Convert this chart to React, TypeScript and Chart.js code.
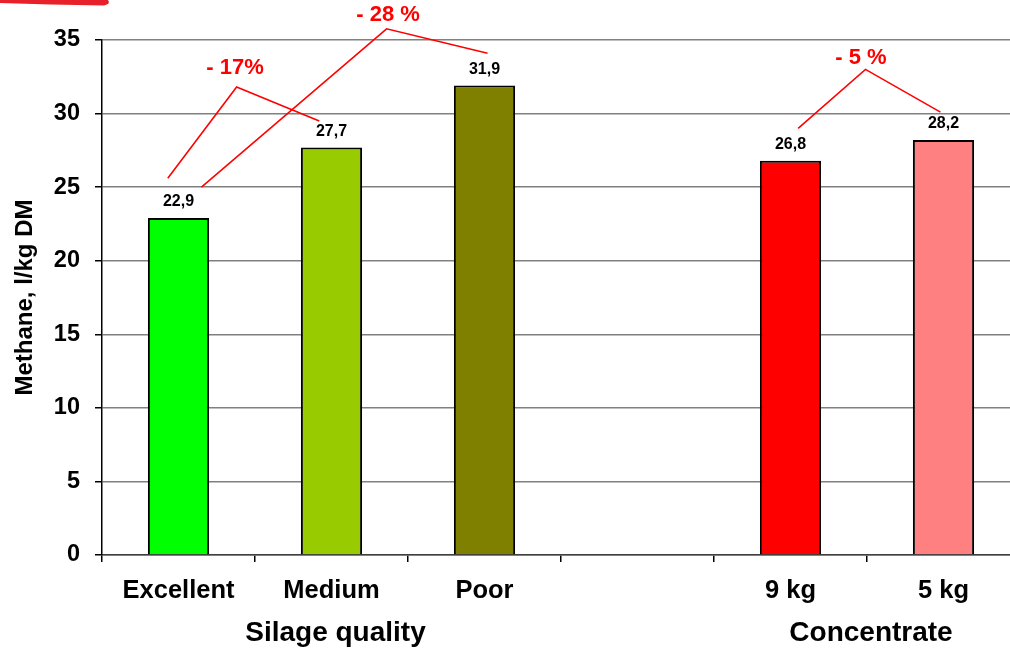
import React, { useEffect, useRef } from 'react';
import { Chart, registerables } from 'chart.js';

Chart.register(...registerables);

// Categories along the x axis (the blank slot separates the two groups)
const categories = ['Excellent', 'Medium', 'Poor', '', '9 kg', '5 kg'];
// Methane yield, l/kg DM
const methane: (number | null)[] = [22.9, 27.7, 31.9, null, 26.8, 28.2];
const barColors = ['#00FF00', '#99CC00', '#808000', '#FFFFFF', '#FF0000', '#FF8080'];

// Y axis range and step
const yMin = 0;
const yMax = 35;
const yStep = 5;

// Group captions under the category labels: first and last category index of each group
const groupTitles = ['Silage quality', 'Concentrate'];
const groupFirst = [0, 4];
const groupLast = [2, 5];

// Reduction callouts, in data units: x is a (fractional) category index, y is l/kg DM
const reductionLabels = ['- 17%', '- 28 %', '- 5 %'];
const reductionPaths: [number, number][][] = [
  [[-0.07, 25.6], [0.38, 31.8], [0.92, 29.5]],
  [[0.15, 25.0], [1.36, 35.76], [2.02, 34.1]],
  [[4.05, 29.0], [4.49, 33.0], [4.98, 30.1]],
];
const reductionLabelAt: [number, number][] = [[0.37, 33.1], [1.37, 36.7], [4.46, 33.8]];

const yTitle = 'Methane, l/kg DM';
const FONT = "'Liberation Sans', Arial, sans-serif";

const fmt = (v: number) => v.toFixed(1).replace('.', ',');

const overlayPlugin = {
  id: 'overlay',
  afterDatasetsDraw(chart: any) {
    const { ctx, chartArea, scales } = chart;
    const x = scales.x;
    const y = scales.y;
    const x0 = x.getPixelForValue(0);
    const step = x.getPixelForValue(1) - x0;
    const xAt = (c: number) => x0 + c * step;

    ctx.save();
    // value labels above bars
    ctx.fillStyle = '#000';
    ctx.font = `bold 16px ${FONT}`;
    ctx.textAlign = 'center';
    ctx.textBaseline = 'middle';
    methane.forEach((v, i) => {
      if (v == null) return;
      ctx.fillText(fmt(v), x.getPixelForValue(i), y.getPixelForValue(v) - 16);
    });

    // reduction callouts
    ctx.strokeStyle = '#FF0000';
    ctx.lineWidth = 1.6;
    reductionPaths.forEach((path) => {
      ctx.beginPath();
      path.forEach(([c, v], k) => {
        const px = xAt(c);
        const py = y.getPixelForValue(v);
        if (k === 0) ctx.moveTo(px, py);
        else ctx.lineTo(px, py);
      });
      ctx.stroke();
    });
    ctx.fillStyle = '#FF0000';
    ctx.font = `bold 22px ${FONT}`;
    reductionLabels.forEach((t, i) => {
      const [c, v] = reductionLabelAt[i];
      ctx.fillText(t, xAt(c), y.getPixelForValue(v));
    });

    // group captions
    ctx.fillStyle = '#000';
    ctx.font = `bold 28px ${FONT}`;
    groupTitles.forEach((t, i) => {
      const cx = (x.getPixelForValue(groupFirst[i]) + x.getPixelForValue(groupLast[i])) / 2;
      ctx.fillText(t, cx + 4, chartArea.bottom + 78);
    });

    // y axis title
    ctx.translate(25, (chartArea.top + chartArea.bottom) / 2);
    ctx.rotate(-Math.PI / 2);
    ctx.font = `bold 24px ${FONT}`;
    ctx.fillText(yTitle, 0, 0);
    ctx.restore();

    // red accent in the top-left corner
    ctx.save();
    ctx.fillStyle = '#E8202A';
    ctx.beginPath();
    ctx.moveTo(0, 0);
    ctx.lineTo(108, 0);
    ctx.quadraticCurveTo(111, 4, 104, 5.5);
    ctx.quadraticCurveTo(50, 4.5, 0, 3);
    ctx.closePath();
    ctx.fill();
    ctx.restore();
  },
};

export default function App() {
  const canvasRef = useRef<HTMLCanvasElement>(null);

  useEffect(() => {
    const canvas = canvasRef.current;
    if (!canvas) return;
    const chart = new Chart(canvas, {
      type: 'bar',
      data: {
        labels: categories,
        datasets: [
          {
            data: methane,
            backgroundColor: barColors,
            borderColor: '#000',
            borderWidth: 2,
            barPercentage: 0.8,
            categoryPercentage: 0.5,
          },
        ],
      },
      options: {
        responsive: false,
        maintainAspectRatio: false,
        animation: false,
        devicePixelRatio: 1,
        layout: { padding: { top: 40, left: 0, right: 0, bottom: 0 } },
        plugins: { legend: { display: false }, tooltip: { enabled: false } },
        scales: {
          x: {
            type: 'category',
            offset: true,
            grid: {
              drawOnChartArea: false,
              offset: true,
              tickLength: 7,
              color: '#000',
              lineWidth: 1.5,
            },
            border: { color: '#404040', width: 1.5 },
            ticks: {
              color: '#000',
              font: { family: FONT, size: 25.5, weight: 'bold' },
              padding: 14,
              maxRotation: 0,
              autoSkip: false,
            },
            afterFit: (s: any) => {
              s.height = 96;
            },
          },
          y: {
            min: yMin,
            max: yMax,
            ticks: {
              stepSize: yStep,
              color: '#000',
              font: { family: FONT, size: 23.5, weight: 'bold' },
              padding: 15,
            },
            grid: {
              color: '#808080',
              lineWidth: 1.5,
              tickColor: '#000',
              tickLength: 7,
            },
            border: { color: '#000', width: 1.5 },
            afterFit: (s: any) => {
              s.width = 102;
            },
          },
        },
      },
      plugins: [overlayPlugin],
    });
    return () => chart.destroy();
  }, []);

  return (
    <div
      style={{
        position: 'fixed',
        left: 0,
        top: 0,
        width: 1010,
        height: 651,
        overflow: 'hidden',
        background: '#fff',
      }}
    >
      <canvas
        ref={canvasRef}
        width={1020}
        height={651}
        style={{ display: 'block', width: '1020px', height: '651px' }}
      />
    </div>
  );
}
